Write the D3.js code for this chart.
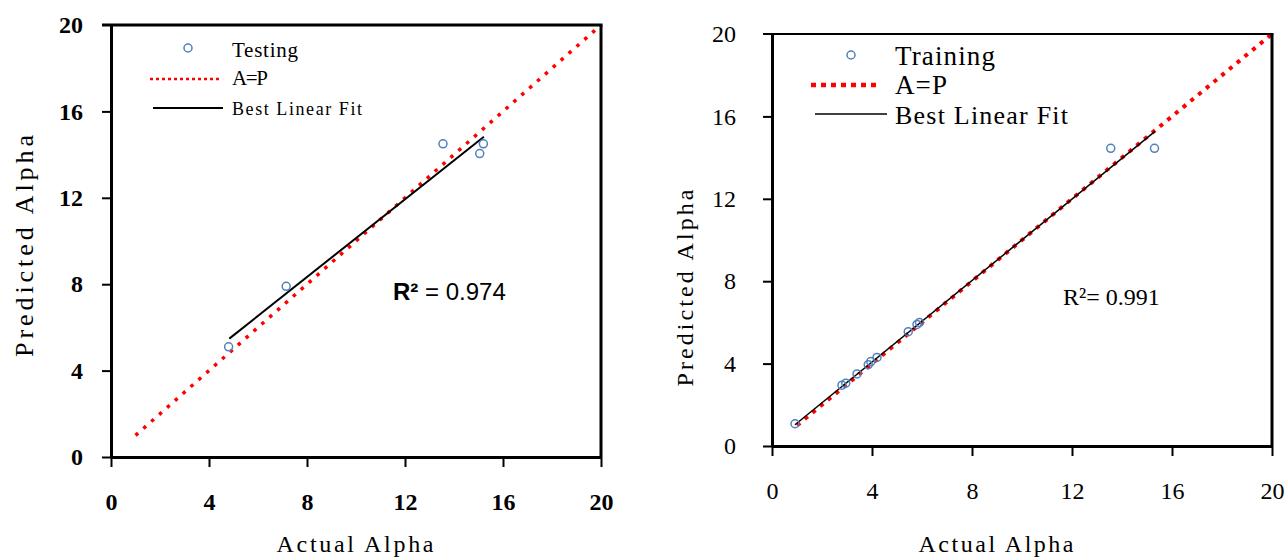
<!DOCTYPE html>
<html>
<head>
<meta charset="utf-8">
<script src="https://cdn.jsdelivr.net/npm/d3@7"></script>
<style>
  body { margin: 0; background: #fff; }
  svg { display: block; }
</style>
</head>
<body>
<div id="chart"></div>
<script>
// values
const tickValues = [0, 4, 8, 12, 16, 20];

const testActual = [4.8, 7.15, 13.55, 15.2, 15.05];
const testPredicted = [5.1, 7.9, 14.5, 14.5, 14.05];
const testFitX = [4.83, 15.22];
const testFitY = [5.48, 14.83];

const trainActual = [0.92, 2.8, 2.95, 3.4, 3.85, 3.95, 4.2, 5.45, 5.8, 5.9, 13.55, 15.3];
const trainPredicted = [1.08, 2.95, 3.05, 3.5, 3.95, 4.1, 4.3, 5.55, 5.9, 6.0, 14.45, 14.45];
const trainFitX = [0.92, 15.32];
const trainFitY = [1.03, 15.27];

const identityX = [1, 20];
const identityY = [1, 20];

const serif = "'Liberation Serif', 'Times New Roman', serif";

const svg = d3.select("#chart")
	.append("svg")
	.attr("width", 1286)
	.attr("height", 559);

function drawPanel(cfg) {
	const x = d3.scaleLinear([0, 20], [cfg.left, cfg.right]);
	const y = d3.scaleLinear([0, 20], [cfg.bottom, cfg.top]);
	const g = svg.append("g");

	// identity A=P line (red dots)
	g.append("line")
		.attr("x1", x(identityX[0])).attr("y1", y(identityY[0]))
		.attr("x2", x(identityX[1])).attr("y2", y(identityY[1]))
		.attr("stroke", "#ff0000")
		.attr("stroke-width", cfg.dotWidth)
		.attr("stroke-dasharray", cfg.dash);

	// best fit line
	g.append("line")
		.attr("x1", x(cfg.fitX[0])).attr("y1", y(cfg.fitY[0]))
		.attr("x2", x(cfg.fitX[1])).attr("y2", y(cfg.fitY[1]))
		.attr("stroke", "#000")
		.attr("stroke-width", cfg.fitWidth);

	// data points
	g.selectAll("circle.pt")
		.data(cfg.xs.map((v, i) => [v, cfg.ys[i]]))
		.join("circle")
		.attr("class", "pt")
		.attr("cx", d => x(d[0]))
		.attr("cy", d => y(d[1]))
		.attr("r", 4)
		.attr("fill", "none")
		.attr("stroke", "#4f81bd")
		.attr("stroke-width", 1.5);

	// frame: top and right borders
	g.append("line")
		.attr("x1", x(0) - 9).attr("x2", x(20) + 1.5)
		.attr("y1", y(20)).attr("y2", y(20))
		.attr("stroke", "#000").attr("stroke-width", cfg.topWidth);
	g.append("line")
		.attr("x1", x(20)).attr("x2", x(20))
		.attr("y1", y(20)).attr("y2", y(0))
		.attr("stroke", "#000").attr("stroke-width", 3);

	const xAxis = d3.axisBottom(x).tickValues(tickValues)
		.tickSize(10).tickSizeOuter(0).tickPadding(cfg.xPad);
	const yAxis = d3.axisLeft(y).tickValues(tickValues)
		.tickSize(9).tickSizeOuter(0).tickPadding(cfg.yPad);

	const xg = g.append("g").attr("transform", `translate(0,${y(0)})`).call(xAxis);
	const yg = g.append("g").attr("transform", `translate(${x(0)},0)`).call(yAxis);

	[xg, yg].forEach(a => {
		a.attr("font-family", serif).attr("font-size", 24);
		a.select(".domain").attr("stroke", "#000").attr("stroke-width", 3);
		a.selectAll(".tick line").attr("stroke", "#000").attr("stroke-width", 2);
		a.selectAll(".tick text")
			.attr("fill", "#000")
			.attr("font-family", serif)
			.attr("font-size", 24)
			.attr("font-weight", cfg.tickWeight)
			.style("font-family", serif)
			.style("font-size", "24px")
			.style("font-weight", cfg.tickWeight);
	});
	yg.selectAll(".tick").filter(d => d === 20).select("line").remove();

	// axis titles
	g.append("text")
		.attr("x", cfg.xTitle[0]).attr("y", cfg.xTitle[1])
		.attr("text-anchor", "middle")
		.attr("textLength", cfg.xTitle[2]).attr("lengthAdjust", "spacing")
		.style("font-family", serif).style("font-size", "24px")
		.text("Actual Alpha");
	g.append("text")
		.attr("transform", `translate(${cfg.yTitle[0]},${cfg.yTitle[1]}) rotate(-90)`)
		.attr("text-anchor", "middle")
		.attr("textLength", cfg.yTitle[2]).attr("lengthAdjust", "spacing")
		.style("font-family", serif).style("font-size", cfg.yTitle[3] + "px")
		.text("Predicted Alpha");

	// legend
	const L = cfg.legend;
	g.append("circle")
		.attr("cx", L.marker[0]).attr("cy", L.marker[1]).attr("r", 4)
		.attr("fill", "none").attr("stroke", "#4f81bd").attr("stroke-width", 1.5);
	g.append("line")
		.attr("x1", L.dots[0]).attr("x2", L.dots[1]).attr("y1", L.dots[2]).attr("y2", L.dots[2])
		.attr("stroke", "#ff0000").attr("stroke-width", L.dotWidth)
		.attr("stroke-dasharray", L.dash);
	g.append("line")
		.attr("x1", L.fit[0]).attr("x2", L.fit[1]).attr("y1", L.fit[2]).attr("y2", L.fit[2])
		.attr("stroke", "#000").attr("stroke-width", L.fitWidth);
	L.labels.forEach(t => {
		g.append("text")
			.attr("x", L.textX).attr("y", t.y)
			.attr("textLength", t.len).attr("lengthAdjust", "spacing")
			.style("font-family", serif).style("font-size", t.size + "px")
			.text(t.text);
	});

	// R squared
	const r = g.append("text")
		.attr("x", cfg.r2[0]).attr("y", cfg.r2[1])
		.style("font-family", cfg.r2Font)
		.style("font-size", "24px");
	r.append("tspan").style("font-weight", cfg.r2Bold ? "bold" : "normal").text("R²");
	r.append("tspan").text(cfg.r2Text);
}

drawPanel({
	left: 111, right: 601, top: 25, bottom: 457,
	xs: testActual, ys: testPredicted, fitX: testFitX, fitY: testFitY,
	dotWidth: 3.5, dash: "3.5,7", fitWidth: 2, topWidth: 3,
	xPad: 26, yPad: 19, tickWeight: "bold",
	xTitle: [355, 552, 157], yTitle: [33, 246, 222, 26],
	legend: {
		marker: [188, 48], dots: [150, 222, 79], dotWidth: 2.5, dash: "3,3",
		fit: [153, 223, 108], fitWidth: 2, textX: 232,
		labels: [
			{ text: "Testing", y: 57, size: 21, len: 66 },
			{ text: "A=P", y: 85, size: 21, len: 36 },
			{ text: "Best Linear Fit", y: 115, size: 18, len: 130 },
		],
	},
	r2: [393, 300], r2Bold: true, r2Font: "'Liberation Sans', Arial, sans-serif",
	r2Text: " = 0.974",
});

drawPanel({
	left: 772, right: 1272, top: 34, bottom: 446,
	xs: trainActual, ys: trainPredicted, fitX: trainFitX, fitY: trainFitY,
	dotWidth: 4, dash: "4,6", fitWidth: 1.5, topWidth: 2,
	xPad: 26, yPad: 27, tickWeight: "normal",
	xTitle: [996, 552, 155], yTitle: [693, 288, 197, 24],
	legend: {
		marker: [851, 55], dots: [811, 878, 85], dotWidth: 4.5, dash: "5,5",
		fit: [815, 887, 114], fitWidth: 1.5, textX: 895,
		labels: [
			{ text: "Training", y: 65, size: 27, len: 100 },
			{ text: "A=P", y: 94, size: 27, len: 52 },
			{ text: "Best Linear Fit", y: 124, size: 26, len: 173 },
		],
	},
	r2: [1063, 305], r2Bold: false, r2Font: serif,
	r2Text: "= 0.991",
});
</script>
</body>
</html>
